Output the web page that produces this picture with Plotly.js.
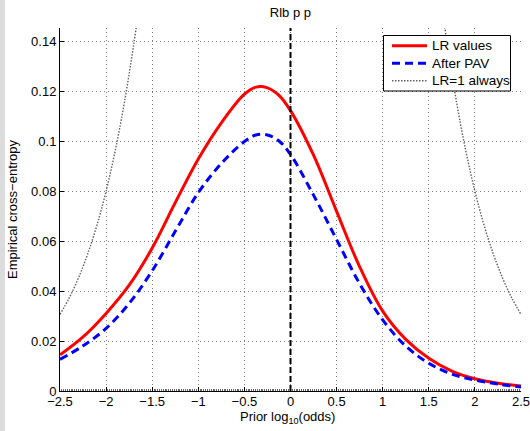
<!DOCTYPE html>
<html>
<head>
<meta charset="utf-8">
<script src="https://cdn.plot.ly/plotly-3.0.1.min.js"></script>
<style>
  html, body { margin: 0; padding: 0; background: #ffffff; }
  #chart { width: 530px; height: 431px; background: linear-gradient(to right, #dcdcdc 5px, #ffffff 5px); }
</style>
</head>
<body>
<div id="chart"></div>
<script>
// Prior log10(odds)
var priorLogOdds = [-2.5, -2.25, -2, -1.75, -1.5, -1.25, -1, -0.75, -0.5, -0.375, -0.25, -0.125, 0, 0.25, 0.5, 0.75, 1, 1.25, 1.5, 1.75, 2, 2.25, 2.5];
// LR values (red, solid)
var lrValues = [0.0145, 0.0217, 0.0311, 0.0424, 0.0573, 0.0755, 0.0930, 0.1075, 0.1190, 0.1218, 0.1215, 0.1185, 0.1124, 0.0945, 0.0720, 0.0498, 0.0320, 0.0207, 0.0131, 0.0080, 0.0049, 0.0031, 0.0020];
// After PAV (blue, dashed)
var pavValues = [0.0127, 0.0181, 0.0251, 0.0351, 0.0482, 0.0640, 0.0795, 0.0912, 0.1000, 0.1026, 0.1026, 0.1002, 0.0948, 0.0785, 0.0607, 0.0430, 0.0285, 0.0180, 0.0111, 0.0068, 0.0044, 0.0028, 0.0016];
// LR=1 always (grey, dotted) - left and right branches
var refXLeft = [-2.5, -2.4, -2.3, -2.2, -2.1, -2.0, -1.9, -1.8, -1.7, -1.65];
var refYLeft = [0.0307, 0.0373, 0.0453, 0.0549, 0.0664, 0.0801, 0.0965, 0.1160, 0.1390, 0.1520];
var refXRight = [1.65, 1.7, 1.8, 1.9, 2.0, 2.1, 2.2, 2.3, 2.4, 2.5];
var refYRight = [0.1520, 0.1390, 0.1160, 0.0965, 0.0801, 0.0664, 0.0549, 0.0453, 0.0373, 0.0307];
var thresholdX = 0;
var seriesNames = ['LR values', 'After PAV', 'LR=1 always'];
var xTickVals = [-2.5, -2, -1.5, -1, -0.5, 0, 0.5, 1, 1.5, 2, 2.5];
var yTickVals = [0, 0.02, 0.04, 0.06, 0.08, 0.1, 0.12, 0.14];

var font = 'Liberation Sans, Arial, Helvetica, sans-serif';
var styles = [
  { color: '#ff0000', width: 3, dash: 'solid' },
  { color: '#0000ff', width: 3, dash: '8px,5px' },
  { color: '#606060', width: 1.4, dash: '1.5px,1.5px' }
];

var traces = [
  { x: priorLogOdds, y: lrValues, name: seriesNames[0], mode: 'lines', type: 'scatter',
    line: { color: styles[0].color, width: styles[0].width, dash: styles[0].dash, shape: 'spline', smoothing: 1 } },
  { x: priorLogOdds, y: pavValues, name: seriesNames[1], mode: 'lines', type: 'scatter',
    line: { color: styles[1].color, width: styles[1].width, dash: styles[1].dash, shape: 'spline', smoothing: 1 } },
  { x: refXLeft.concat([null]).concat(refXRight), y: refYLeft.concat([null]).concat(refYRight),
    name: seriesNames[2], mode: 'lines', type: 'scatter', connectgaps: false,
    line: { color: styles[2].color, width: styles[2].width, dash: styles[2].dash, shape: 'spline', smoothing: 1 } }
];

// plot area in pixels: left 60, right 521, top 28, bottom 391
function px2x(px) { return (px - 60) / 461; }
function py2y(py) { return (391 - py) / 363; }

var shapes = [
  { type: 'line', xref: 'x', yref: 'paper', x0: thresholdX, x1: thresholdX, y0: 0, y1: 1,
    line: { color: '#000000', width: 2, dash: '6px,3px' } },
  // legend box
  { type: 'rect', xref: 'paper', yref: 'paper', x0: px2x(383.5), x1: px2x(510.5), y0: py2y(91), y1: py2y(35.5),
    fillcolor: '#ffffff', line: { color: '#000000', width: 1 }, layer: 'above' }
];
var annotations = [];
var rowY = [45.7, 63.3, 80.7];
for (var i = 0; i < seriesNames.length; i++) {
  shapes.push({ type: 'line', xref: 'paper', yref: 'paper', x0: px2x(392), x1: px2x(427), y0: py2y(rowY[i]), y1: py2y(rowY[i]),
    line: { color: styles[i].color, width: i === 2 ? 1.4 : 3, dash: styles[i].dash }, layer: 'above' });
  annotations.push({ xref: 'paper', yref: 'paper', x: px2x(430), y: py2y(rowY[i]), xanchor: 'left', yanchor: 'middle',
    text: seriesNames[i], showarrow: false, font: { family: font, size: 13.5, color: '#000' } });
}
annotations.push({ xref: 'paper', yref: 'paper', x: px2x(287), y: 0, yshift: -26, xanchor: 'center', yanchor: 'middle',
  text: 'Prior log<sub>10</sub>(odds)', showarrow: false, font: { family: font, size: 13, color: '#000' } });

var layout = {
  width: 530, height: 431,
  margin: { l: 60, r: 9, t: 28, b: 40, pad: 0 },
  paper_bgcolor: 'rgba(0,0,0,0)',
  plot_bgcolor: '#ffffff',
  font: { family: font, size: 13, color: '#000000' },
  title: { text: 'Rlb p p', x: 0.548, xanchor: 'center', y: 0.97, yanchor: 'middle', font: { family: font, size: 13, color: '#000' } },
  showlegend: false,
  xaxis: {
    range: [-2.5, 2.5], tickvals: xTickVals, ticks: 'inside', ticklen: 4, tickcolor: '#000',
    showline: true, linecolor: '#000', linewidth: 1, mirror: false,
    showgrid: true, gridcolor: 'rgba(0,0,0,0.5)', griddash: '1px,3px', gridwidth: 1,
    zeroline: false, tickfont: { family: font, size: 13, color: '#000' }, ticklabeloverflow: 'allow',
    ticklabelstandoff: -2,
    minor: { dtick: 0.02, ticks: 'inside', ticklen: 2, tickcolor: 'rgba(0,0,0,0.6)', showgrid: false }
  },
  yaxis: {
    range: [0, 0.1455], tickvals: yTickVals, ticks: 'inside', ticklen: 4, tickcolor: '#000',
    showline: true, linecolor: '#000', linewidth: 1, mirror: false,
    showgrid: true, gridcolor: 'rgba(0,0,0,0.5)', griddash: '1px,3px', gridwidth: 1,
    zeroline: false, tickfont: { family: font, size: 13, color: '#000' },
    title: { text: 'Empirical cross\u2212entropy', standoff: 10, font: { family: font, size: 13, color: '#000' } }
  },
  shapes: shapes,
  annotations: annotations
};

Plotly.newPlot('chart', traces, layout, { displayModeBar: false, staticPlot: true });
</script>
</body>
</html>
